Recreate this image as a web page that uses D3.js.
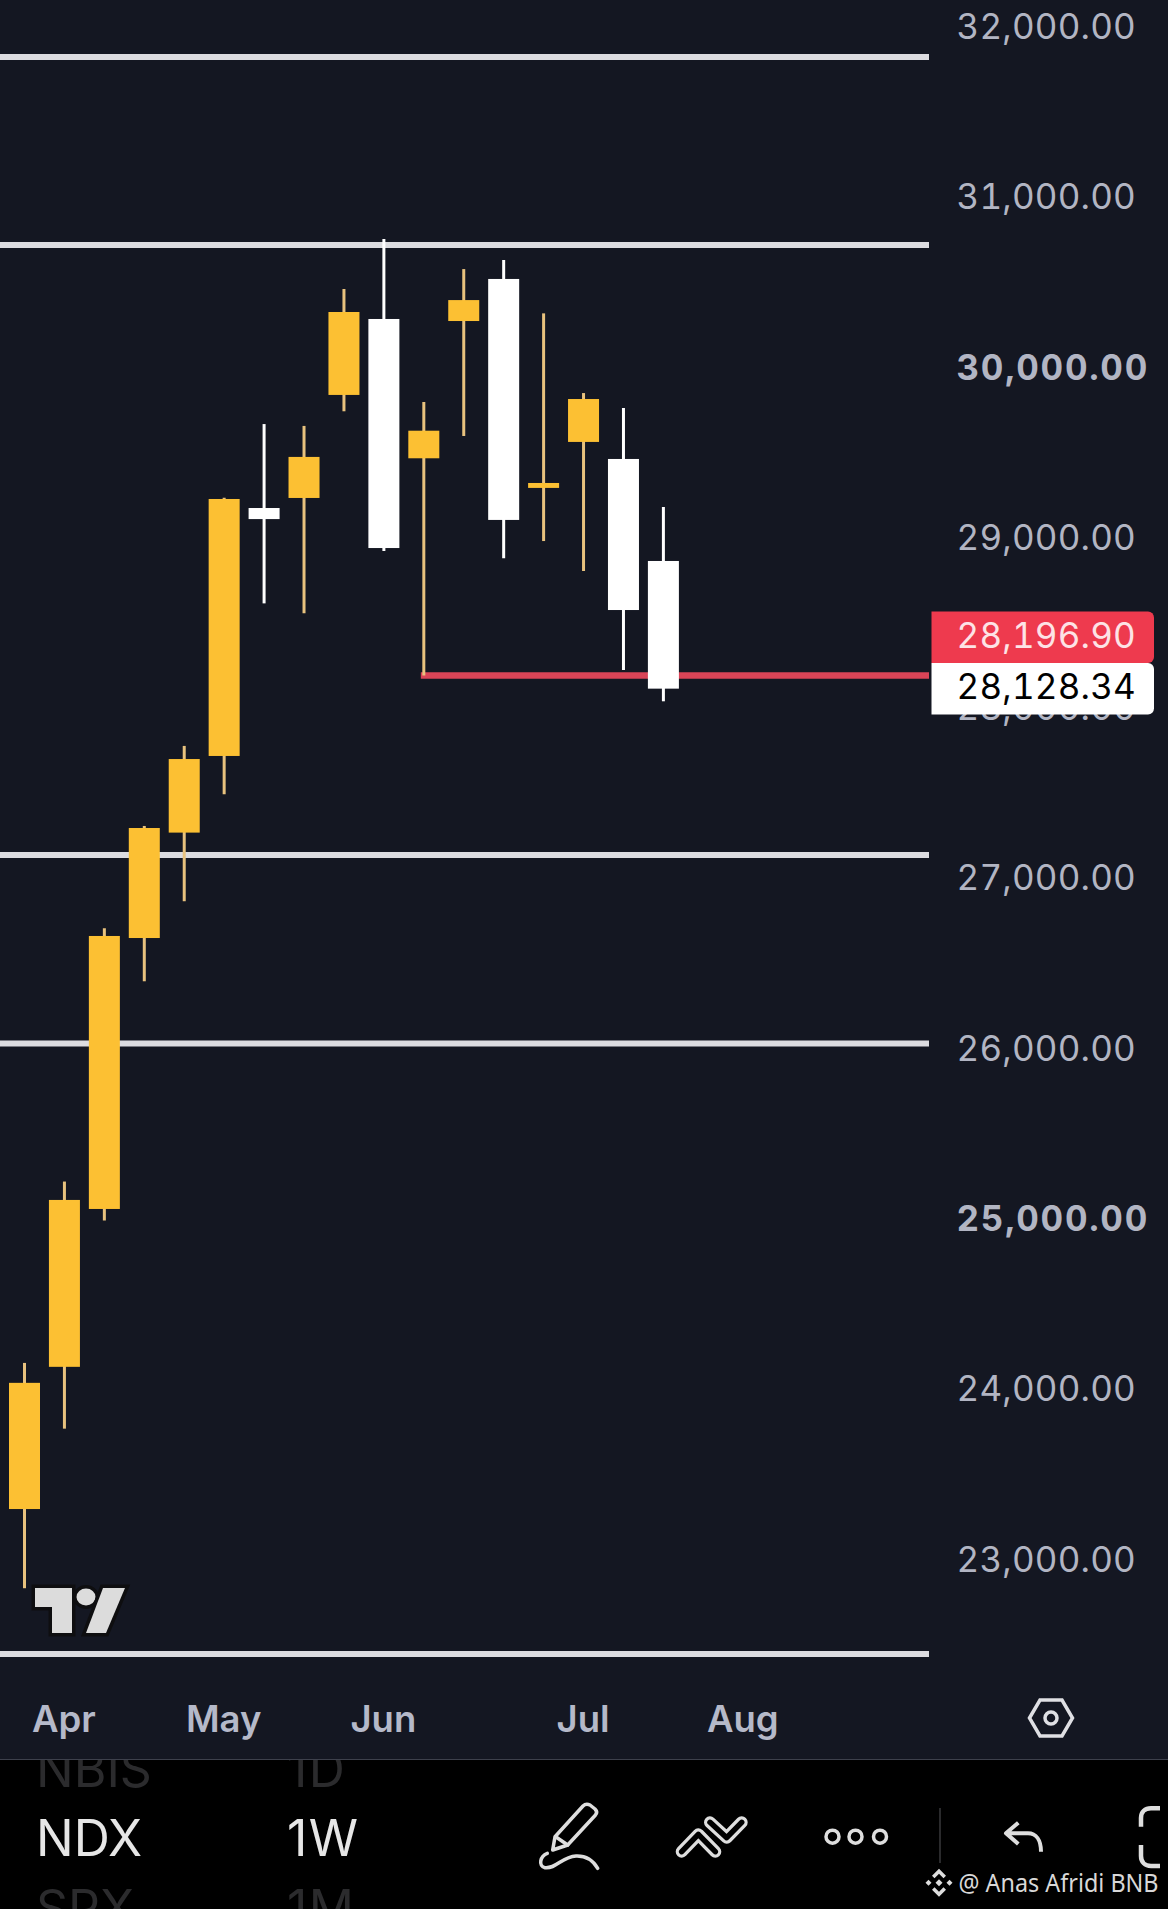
<!DOCTYPE html>
<html>
<head>
<meta charset="utf-8">
<script src="https://cdn.jsdelivr.net/npm/d3@7"></script>
<style>
  html, body { margin: 0; padding: 0; background: #000; }
  svg { display: block; }
  text { font-family: Inter, "Noto Sans", sans-serif; }
  .num { font-feature-settings: "tnum" 1; }
</style>
</head>
<body>
<div id="chartPlaceholder"></div>
<script>
// weekly NDX candles
const opens  = [23311, 24146, 25073, 26664, 27283, 27733, 29189, 29248, 29853, 30299, 29481, 30287, 30534, 29307, 29577, 29477, 28878];
const highs  = [24169, 25234, 26721, 27322, 27792, 29250, 29682, 29671, 30475, 30769, 29812, 30592, 30645, 30332, 29864, 29776, 29195];
const lows   = [22846, 23783, 25006, 26410, 26880, 27508, 28629, 28571, 29757, 28937, 28205, 29612, 28894, 28995, 28819, 28238, 28054];
const closes = [24052, 25126, 26676, 27310, 27715, 29242, 29124, 29489, 30340, 28954, 29643, 30410, 29119, 29336, 29829, 28590, 28128.34];

const priceTicks = [32000, 31000, 30000, 29000, 28000, 27000, 26000, 25000, 24000, 23000];
const boldTicks = [30000, 25000];
const monthIndex = [1, 5, 9, 14, 18];
const monthNames = ['Apr', 'May', 'Jun', 'Jul', 'Aug'];

// hand drawn levels on the chart
const levels = [31837, 30733, 27152, 26044, 22460];
const supportLevel = 28205;
const supportStart = 10;

const lastPrice = 28128.34;
const prevPrice = 28196.90;

const symbolRows = [['NBIS', '1D'], ['NDX', '1W'], ['SPX', '1M']];

const width = 1168, height = 1909;
const panelBottom = 1759, plotRight = 929;
const bodyW = 31;

const svg = d3.select('#chartPlaceholder').append('svg')
    .attr('width', width)
    .attr('height', height);

svg.append('rect').attr('width', width).attr('height', height).attr('fill', '#000');

// symbol picker rows, the chart panel covers the clipped top one
const rowY = [1787, 1856, 1926];
symbolRows.forEach((row, i) => {
    const col = i === 1 ? '#e6e6e6' : '#2b2b2d';
    svg.append('text').attr('x', 36).attr('y', rowY[i]).attr('font-size', 50).attr('fill', col).text(row[0]);
    svg.append('text').attr('x', 287).attr('y', rowY[i]).attr('font-size', 50).attr('letter-spacing', 1.5).attr('fill', col).text(row[1]);
});

svg.append('rect').attr('width', width).attr('height', panelBottom).attr('fill', '#141722');
svg.append('rect').attr('y', panelBottom).attr('width', width).attr('height', 1).attr('fill', '#3d404c');

const x = d3.scaleLinear().domain([0, 16]).range([24.5, 663.4]);
const y = d3.scaleLinear().domain([32000, 23000]).range([29.3, 1562]);

// price axis
const yAxis = svg.append('g')
    .attr('transform', 'translate(956.5, 0)')
    .call(d3.axisRight(y).tickValues(priceTicks).tickSize(0).tickPadding(0)
        .tickFormat(d => d3.format(',.2f')(d)));
yAxis.select('.domain').remove();
yAxis.selectAll('text')
    .attr('class', 'num')
    .attr('font-family', null)
    .attr('y', -3.5)
    .attr('dy', '0.36em')
    .attr('font-size', 35)
    .attr('letter-spacing', d => boldTicks.includes(d) ? 1.7 : 0.2)
    .attr('font-weight', d => boldTicks.includes(d) ? 700 : 400)
    .attr('fill', '#b2b5c3');

// time axis
const xAxis = svg.append('g')
    .attr('transform', 'translate(0, 1700)')
    .call(d3.axisBottom(x).tickValues(monthIndex).tickSize(0).tickPadding(0)
        .tickFormat((d, i) => monthNames[i]));
xAxis.select('.domain').remove();
xAxis.selectAll('text')
    .attr('font-family', null)
    .attr('x', -1)
    .attr('y', 31.7)
    .attr('dy', 0)
    .attr('font-size', 36.5)
    .attr('font-weight', 600)
    .attr('fill', '#b5b9c9');

// horizontal levels
svg.append('g').selectAll('line').data(levels).join('line')
    .attr('x1', 0).attr('x2', plotRight)
    .attr('y1', d => y(d)).attr('y2', d => y(d))
    .attr('stroke', '#dcdce0').attr('stroke-width', 6);

svg.append('line')
    .attr('x1', x(supportStart) - 3).attr('x2', plotRight)
    .attr('y1', y(supportLevel)).attr('y2', y(supportLevel))
    .attr('stroke', '#d94457').attr('stroke-width', 6.5);

// candles
const candles = d3.range(opens.length).map(i => ({
    i, open: opens[i], high: highs[i], low: lows[i], close: closes[i], up: closes[i] >= opens[i]
}));

const candleG = svg.append('g');
candleG.selectAll('line').data(candles).join('line')
    .attr('x1', d => x(d.i)).attr('x2', d => x(d.i))
    .attr('y1', d => y(d.high)).attr('y2', d => y(d.low))
    .attr('stroke', d => d.up ? '#e8c27e' : '#ffffff')
    .attr('stroke-width', 3);
candleG.selectAll('rect').data(candles).join('rect')
    .attr('x', d => x(d.i) - bodyW / 2)
    .attr('width', bodyW)
    .attr('y', d => y(Math.max(d.open, d.close)))
    .attr('height', d => Math.abs(y(d.open) - y(d.close)))
    .attr('fill', d => d.up ? '#fcc033' : '#ffffff');

// price tags, red one sits right on top of the white last price tag
const tagH = 51.5, tagX = 931.5, tagW = 222.5;
const tagPath = (top) => `M${tagX} ${top}H${tagX + tagW - 6}a6 6 0 0 1 6 6V${top + tagH - 6}a6 6 0 0 1 -6 6H${tagX}Z`;
const whiteTop = y(lastPrice) - tagH / 2;
const redTop = whiteTop - tagH;
svg.append('path').attr('d', tagPath(redTop)).attr('fill', '#ee3a4e');
svg.append('path').attr('d', tagPath(whiteTop)).attr('fill', '#ffffff');
svg.append('text').attr('class', 'num').attr('x', 956.5).attr('y', redTop + tagH / 2 - 2).attr('dy', '0.36em')
    .attr('font-size', 35).attr('letter-spacing', 0.2).attr('fill', '#fde3e6').text(d3.format(',.2f')(prevPrice));
svg.append('text').attr('class', 'num').attr('x', 956.5).attr('y', whiteTop + tagH / 2 - 2).attr('dy', '0.36em')
    .attr('font-size', 35).attr('letter-spacing', 0.2).attr('fill', '#000').text(d3.format(',.2f')(lastPrice));

// tradingview logo
const logo = svg.append('g').attr('fill', '#dcdcdc').attr('stroke', '#0e0e10').attr('stroke-width', 7)
    .style('paint-order', 'stroke');
logo.append('path').attr('d', 'M35 1588H72V1633H52V1607H35Z');
logo.append('ellipse').attr('cx', 86).attr('cy', 1597).attr('rx', 9.5).attr('ry', 8.5);
logo.append('path').attr('d', 'M103 1588H125L106 1633H86Z');

// settings hexagon
const gear = svg.append('g').attr('fill', 'none').attr('stroke', '#dfe0e4').attr('stroke-width', 3.5);
gear.append('path').attr('d', 'M1029.5 1718L1040 1700H1062L1072.5 1718L1062 1736H1040Z');
gear.append('circle').attr('cx', 1051).attr('cy', 1718).attr('r', 6);

// toolbar icons
const icons = svg.append('g').attr('fill', 'none').attr('stroke', '#dedede').attr('stroke-width', 3.5)
    .attr('stroke-linecap', 'round').attr('stroke-linejoin', 'round');
icons.append('path').attr('d', 'M552.7 1850L555 1836.7L583 1806Q586 1803 590 1805L595 1809Q598 1812 595.5 1815L567.7 1845Z');
icons.append('path').attr('d', 'M556 1837L567.7 1845');
icons.append('path').attr('d', 'M547.3 1853.3C540 1856 538 1866 545 1867.7C556 1869 562 1856.7 576 1856C588 1855.5 594 1862 597.7 1868.3');

const chevrons = ['M681.7 1851.7L698.3 1834.3L715.3 1851.7', 'M710 1822.3L726.7 1837.7L741.7 1822.3'];
chevrons.forEach(d => {
    icons.append('path').attr('d', d).attr('stroke-width', 12);
    icons.append('path').attr('d', d).attr('stroke-width', 5.5).attr('stroke', '#000');
});

[832.5, 855.5, 880].forEach(cx => {
    icons.append('circle').attr('cx', cx).attr('cy', 1836.7).attr('r', 6.5);
});

svg.append('line').attr('x1', 940).attr('x2', 940).attr('y1', 1808).attr('y2', 1863)
    .attr('stroke', '#47474a').attr('stroke-width', 1.2);

icons.append('path').attr('d', 'M1018.3 1822.7L1006 1833.3L1018.3 1844M1006 1833.3H1028C1036 1833.3 1041 1840 1041 1851.7')
    .attr('stroke-linecap', 'butt').attr('stroke-width', 4);
icons.append('path').attr('d', 'M1160 1808.3H1151C1145 1808.3 1141 1812 1141 1818V1826.7M1141 1845V1856C1141 1862 1145 1866 1151 1866H1160')
    .attr('stroke-linecap', 'butt').attr('stroke-width', 4.5);

// watermark
const bnb = svg.append('g').attr('fill', '#dedede').attr('transform', 'translate(939, 1882.7)');
bnb.append('path').attr('d', 'M0 -14L7 -7L4.5 -4.5L0 -9L-4.5 -4.5L-7 -7Z');
bnb.append('path').attr('d', 'M0 14L7 7L4.5 4.5L0 9L-4.5 4.5L-7 7Z');
bnb.append('path').attr('d', 'M0 -3.5L3.5 0L0 3.5L-3.5 0Z');
bnb.append('path').attr('d', 'M-10.5 -3L-7.5 0L-10.5 3L-13.5 0Z');
bnb.append('path').attr('d', 'M10.5 -3L13.5 0L10.5 3L7.5 0Z');

svg.append('text').attr('x', 958.5).attr('y', 1891.5)
    .style('font-family', '"Noto Sans", sans-serif')
    .attr('textLength', 200).attr('lengthAdjust', 'spacingAndGlyphs')
    .attr('font-size', 25).attr('fill', '#d8d8d8').text('@ Anas Afridi BNB');
</script>
</body>
</html>
